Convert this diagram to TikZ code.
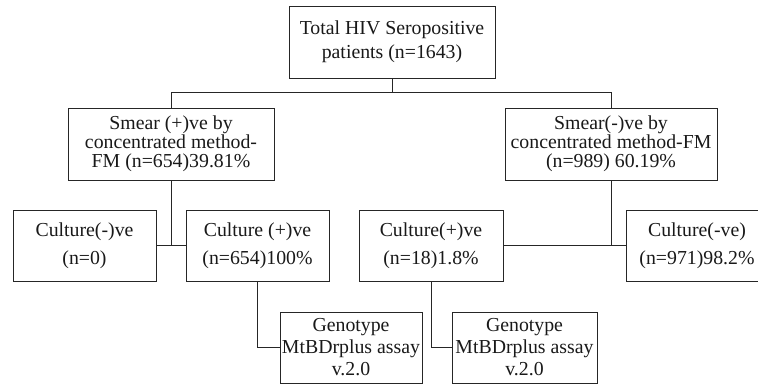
\documentclass[tikz,border=0pt]{standalone}
\usepackage{fontspec}
\setmainfont{Liberation Serif}
\tikzset{
  box/.style={draw=black!85, line width=1pt, inner sep=0pt, align=center, text=black!90, minimum height=72pt},
  lnk/.style={draw=black!85, line width=1pt},
  ftop/.style={font=\fontsize{19.8}{24}\selectfont},
  fsmear/.style={font=\fontsize{19.8}{19}\selectfont},
  fcult/.style={font=\fontsize{19.8}{28}\selectfont},
  fgeno/.style={font=\fontsize{19.8}{22}\selectfont},
}
\begin{document}
\begin{tikzpicture}[x=1pt,y=-1pt]
\useasboundingbox (0,0) rectangle (758,384);
\clip (0,0) rectangle (758,384);
\node[box,ftop,minimum width=206pt] (top) at (392,42) {Total HIV Seropositive\\patients (n=1643)};
\node[box,fsmear,minimum width=206pt] (smearP) at (171,144) {Smear (+)ve by\\concentrated method-\\FM (n=654)39.81\%};
\node[box,fsmear,minimum width=212pt] (smearN) at (611,144) {Smear(-)ve by\\concentrated method-FM\\(n=989) 60.19\%};
\node[box,fcult,minimum width=143pt,minimum height=71pt] (cneg) at (84.5,245.5) {Culture(-)ve\\(n=0)};
\node[box,fcult,minimum width=143pt,minimum height=71pt] (cpos) at (257.5,245.5) {Culture (+)ve\\(n=654)100\%};
\node[box,fcult,minimum width=144pt,minimum height=71pt] (cpos2) at (431,245.5) {Culture(+)ve\\(n=18)1.8\%};
\node[box,fcult,minimum width=142pt,minimum height=71pt] (cneg2) at (697,245.5) {Culture(-ve)\\(n=971)98.2\%};
\node[box,fgeno,minimum width=142pt,minimum height=71pt] (geno1) at (351,347.5) {Genotype\\MtBDrplus assay\\v.2.0};
\node[box,fgeno,minimum width=145pt,minimum height=71pt] (geno2) at (524.5,347.5) {Genotype\\MtBDrplus assay\\v.2.0};
\draw[lnk] (smearP.north) -- ++(0,-15) coordinate (lt) -| (smearN.north);
\draw[lnk] (top.south) -- (top.south |- lt);
\draw[lnk] (smearP.south) -- (smearP.south |- cneg.east);
\draw[lnk] (cneg.east) -- (cpos.west);
\draw[lnk] (smearN.south) -- (smearN.south |- cpos2.east);
\draw[lnk] (cpos2.east) -- (cneg2.west);
\draw[lnk] (cpos.south) |- (geno1.west);
\draw[lnk] (cpos2.south) |- (geno2.west);
\end{tikzpicture}
\end{document}
